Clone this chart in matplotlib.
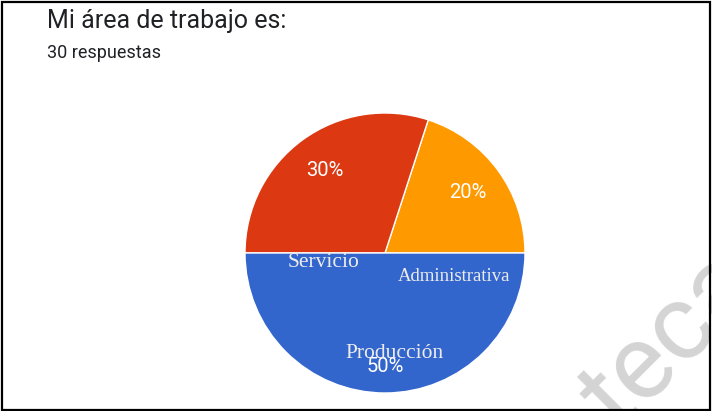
import matplotlib.pyplot as plt
from matplotlib.patches import Rectangle

# data
categories = ['Administrativa', 'Servicio', 'Producción']
values = [20, 30, 50]
colors = ['#ff9900', '#dc3912', '#3366cc']
total_responses = 30

W, H = 712, 411
fig = plt.figure(figsize=(W / 100, H / 100), dpi=100)
fig.patch.set_facecolor('white')

# pie axes: centre ~ (385, 253) px, radius ~ 140 px
cx, cy, r = 385, 253, 140
ax = fig.add_axes([(cx - r) / W, 1 - (cy + r) / H, 2 * r / W, 2 * r / H])
wedges, texts, autotexts = ax.pie(
    values, colors=colors, startangle=0, counterclock=True,
    autopct='%1.0f%%', pctdistance=0.73, radius=1,
    wedgeprops=dict(edgecolor='white', linewidth=1),
    textprops=dict(color='white', fontsize=14.5, family='Roboto'))
autotexts[2].set_position((0, -0.81))
ax.set_xlim(-1, 1)
ax.set_ylim(-1, 1)
ax.set_aspect('equal')
ax.axis('off')

# overlaid serif category labels
label_pos = {'Servicio': (-0.44, -0.07), 'Administrativa': (0.49, -0.165),
             'Producción': (0.07, -0.72)}
label_size = {'Servicio': 15.5, 'Administrativa': 13.5, 'Producción': 15.5}
for name in categories:
    x, y = label_pos[name]
    ax.text(x, y, name, color='#ececec', fontsize=label_size[name],
            family='Liberation Serif', ha='center', va='center')

# titles
fig.text(47 / W, 1 - 21 / H, 'Mi área de trabajo es:', fontsize=18,
         family='Roboto', color='#202124', va='center', ha='left')
fig.text(47 / W, 1 - 53 / H, f'{total_responses} respuestas', fontsize=13,
         family='Roboto', color='#202124', va='center', ha='left')

# watermark fragment
fig.text(619 / W, 1 - 433 / H, 'teca', fontsize=76, family='Roboto',
         color='#d4d4d4', rotation=45, rotation_mode='anchor',
         ha='left', va='baseline', zorder=0)

# black frame
fig.patches.append(Rectangle((2 / W, 1 / H), 708 / W, 408 / H,
                             transform=fig.transFigure, fill=False,
                             edgecolor='black', linewidth=1.6))

fig.savefig('out.png', dpi=100)
